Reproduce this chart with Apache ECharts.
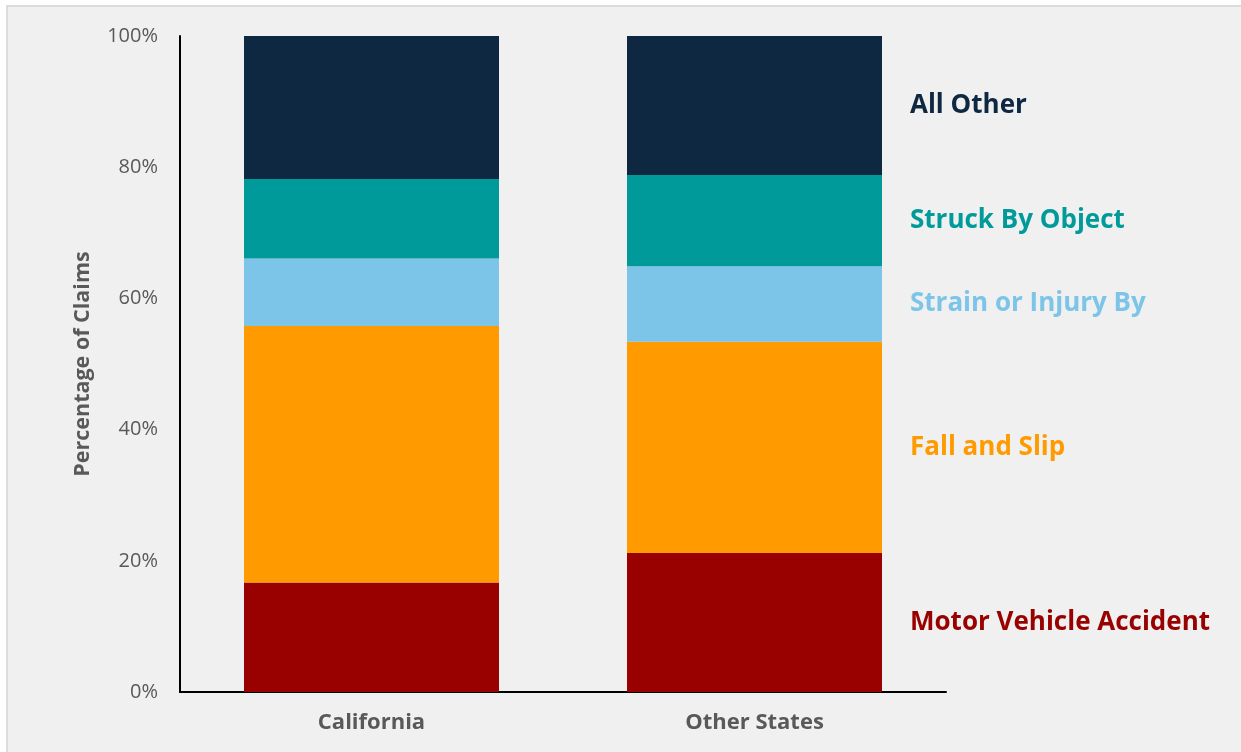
<!DOCTYPE html>
<html>
<head>
<meta charset="utf-8">
<title>Claims by Cause</title>
<script src="https://cdn.jsdelivr.net/npm/echarts@6/dist/echarts.min.js"></script>
<style>
  html, body { margin: 0; padding: 0; background: #ffffff; }
  #chart { width: 1241px; height: 752px; }
</style>
</head>
<body>
<div id="chart"></div>
<script>
// Regions on the x axis
const regions = ['California', 'Other States'];

// Share of claims (%) by cause, bottom of stack first
const motorVehicle = [16.7, 21.2];
const fallSlip     = [39.1, 32.2];
const strainInjury = [10.3, 11.5];
const struckBy     = [12.1, 13.9];
const allOther     = [21.8, 21.2];

const causeNames  = ['Motor Vehicle Accident', 'Fall and Slip', 'Strain or Injury By', 'Struck By Object', 'All Other'];
const causeValues = [motorVehicle, fallSlip, strainInjury, struckBy, allOther];
const causeColors = ['#990000', '#ff9b00', '#7cc5e9', '#019a9a', '#0e2841'];

const yTicks = [0, 20, 40, 60, 80, 100];

const FONT = '"Open Sans", "Noto Sans", "Liberation Sans", sans-serif';

// Cause names are written beside the last bar, in the colour of their segment
const series = causeNames.map((name, i) => ({
  name: name,
  type: 'bar',
  stack: 'share',
  barWidth: 255,
  itemStyle: { color: causeColors[i] },
  data: causeValues[i].map((v, j) => ({
    value: v,
    label: {
      show: j === regions.length - 1,
      position: 'right',
      distance: 28,
      formatter: name,
      color: causeColors[i],
      fontFamily: FONT,
      fontWeight: 'bold',
      fontSize: 26
    }
  }))
}));

const chart = echarts.init(document.getElementById('chart'), null, { renderer: 'canvas' });
chart.setOption({
  animation: false,
  backgroundColor: '#f0f0f0',
  graphic: [
    { type: 'rect', shape: { x: 0, y: 0, width: 1241, height: 5 }, style: { fill: '#ffffff' }, silent: true },
    { type: 'rect', shape: { x: 0, y: 0, width: 6, height: 752 }, style: { fill: '#ffffff' }, silent: true },
    { type: 'rect', shape: { x: 6, y: 5, width: 1235, height: 2 }, style: { fill: '#dcdcdc' }, silent: true },
    { type: 'rect', shape: { x: 6, y: 5, width: 2, height: 747 }, style: { fill: '#dcdcdc' }, silent: true }
  ],
  grid: { left: 180, right: 295, top: 36, bottom: 60, containLabel: false },
  xAxis: {
    type: 'category',
    data: regions,
    axisLine: { show: true, lineStyle: { color: '#000000', width: 2 } },
    axisTick: { show: false },
    axisLabel: {
      margin: 20,
      color: '#595959',
      fontFamily: FONT,
      fontWeight: 'bold',
      fontSize: 22
    }
  },
  yAxis: {
    type: 'value',
    min: yTicks[0],
    max: yTicks[yTicks.length - 1],
    interval: yTicks[1] - yTicks[0],
    name: 'Percentage of Claims',
    nameLocation: 'middle',
    nameGap: 86,
    nameTextStyle: {
      color: '#595959',
      fontFamily: FONT,
      fontWeight: 'bold',
      fontSize: 21.5
    },
    axisLine: { show: true, lineStyle: { color: '#000000', width: 2 } },
    axisTick: { show: false },
    splitLine: { show: false },
    axisLabel: {
      margin: 22,
      color: '#595959',
      fontFamily: FONT,
      fontSize: 20,
      formatter: '{value}%'
    }
  },
  series: series
});
</script>
</body>
</html>
